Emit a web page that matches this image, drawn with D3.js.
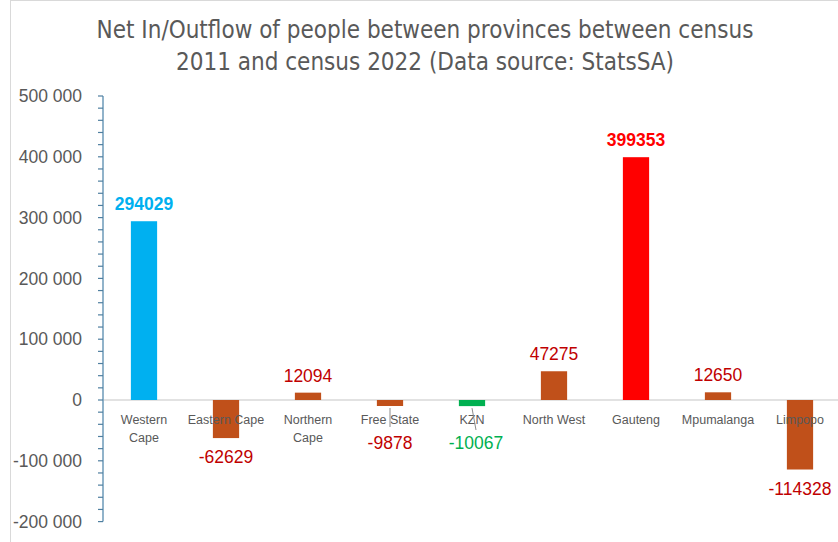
<!DOCTYPE html>
<html lang="en">
<head>
    <meta charset="UTF-8">
    <title>Net In/Outflow of people between provinces</title>
    <script src="https://d3js.org/d3.v7.min.js"></script>
    <style>
        body {
            margin: 0;
            padding: 0;
            background-color: #fff;
            font-family: 'Liberation Sans', Arial, sans-serif;
        }
    </style>
</head>
<body>
    <script>
        // Data
        const provinces = ["Western Cape", "Eastern Cape", "Northern Cape", "Free State", "KZN",
                           "North West", "Gauteng", "Mpumalanga", "Limpopo"];
        const netFlow = [294029, -62629, 12094, -9878, -10067, 47275, 399353, 12650, -114328];
        const yTicks = [-200000, -100000, 0, 100000, 200000, 300000, 400000, 500000];

        const width = 838;
        const height = 542;
        const margin = { top: 96, right: 0, bottom: 20, left: 103 };

        const svg = d3.select("body")
            .append("svg")
            .attr("width", width)
            .attr("height", height);

        // chart frame
        svg.append("rect")
            .attr("x", 10.5).attr("y", 0.5)
            .attr("width", width).attr("height", height + 10)
            .attr("fill", "none")
            .attr("stroke", "#d9d9d9");

        const x = d3.scaleBand()
            .domain(provinces)
            .range([margin.left, 841])
            .paddingInner(0.68)
            .paddingOuter(0.34);

        const y = d3.scaleLinear()
            .domain([-200000, 500000])
            .range([521.6, 96]);

        const barColor = (d, i) => {
            if (provinces[i] === "Western Cape") return "#00b0f0";
            if (provinces[i] === "Gauteng") return "#ff0000";
            if (provinces[i] === "KZN") return "#00b050";
            return "#c0501a";
        };
        const labelColor = (d, i) => {
            if (provinces[i] === "Western Cape") return "#00b0f0";
            if (provinces[i] === "Gauteng") return "#ff0000";
            if (provinces[i] === "KZN") return "#00b050";
            return "#c00000";
        };

        // Title
        const title = svg.append("text")
            .attr("x", 425)
            .attr("text-anchor", "middle")
            .attr("fill", "#595959")
            .style("font-family", "'Liberation Sans Narrow', 'DejaVu Sans Condensed', sans-serif")
            .style("font-size", "24px");
        title.append("tspan").attr("x", 425).attr("y", 38).text("Net In/Outflow of people between provinces between census");
        title.append("tspan").attr("x", 425).attr("y", 70).text("2011 and census 2022 (Data source: StatsSA)");

        // zero line
        svg.append("line")
            .attr("x1", margin.left).attr("x2", width)
            .attr("y1", y(0)).attr("y2", y(0))
            .attr("stroke", "#d9d9d9")
            .attr("stroke-width", 1.5);

        // Bars
        svg.append("g")
            .selectAll("rect")
            .data(netFlow)
            .join("rect")
            .attr("x", (d, i) => x(provinces[i]))
            .attr("width", x.bandwidth())
            .attr("y", d => y(Math.max(0, d)))
            .attr("height", d => Math.abs(y(d) - y(0)))
            .attr("fill", barColor);

        // Y axis with minor ticks
        const minorTicks = d3.range(-200000, 500001, 20000);
        const axisG = svg.append("g")
            .attr("transform", `translate(${margin.left},0)`);
        axisG.append("line")
            .attr("x1", 0).attr("x2", 0)
            .attr("y1", y(500000)).attr("y2", y(-200000))
            .attr("stroke", "#6d9ab9")
            .attr("stroke-width", 1.5);
        axisG.selectAll("line.minor")
            .data(minorTicks)
            .join("line")
            .attr("class", "minor")
            .attr("x1", -5).attr("x2", 0)
            .attr("y1", d => y(d)).attr("y2", d => y(d))
            .attr("stroke", "#4f7fa0")
            .attr("stroke-width", 1.2);
        axisG.selectAll("text")
            .data(yTicks)
            .join("text")
            .attr("x", -21)
            .attr("y", d => y(d))
            .attr("dy", "0.35em")
            .attr("text-anchor", "end")
            .attr("fill", "#595959")
            .style("font-size", "17.5px")
            .text(d => d3.format(",")(d).replace(/,/g, " ").replace("−", "-"));

        // Category labels
        const catG = svg.append("g");
        provinces.forEach((p, i) => {
            const cx = x(p) + x.bandwidth() / 2;
            const words = (p === "Western Cape" || p === "Northern Cape") ? p.split(" ") : [p];
            const t = catG.append("text")
                .attr("text-anchor", "middle")
                .attr("fill", "#595959")
                .style("font-size", "12.5px");
            words.forEach((w, j) => {
                t.append("tspan").attr("x", cx).attr("y", 424 + j * 18).text(w);
            });
        });

        // leader lines for small negative bars
        const leaders = [
            { name: "Free State", dx: 0, y2: 427 },
            { name: "KZN", dx: 4, y2: 430 }
        ];
        leaders.forEach(l => {
            const i = provinces.indexOf(l.name);
            const cx = x(l.name) + x.bandwidth() / 2;
            svg.append("line")
                .attr("x1", cx).attr("y1", y(netFlow[i]) + 2)
                .attr("x2", cx + l.dx).attr("y2", l.y2)
                .attr("stroke", "#8c8c8c")
                .attr("stroke-width", 1);
        });

        // Value labels
        const labelOffset = (d, i) => {
            const p = provinces[i];
            if (p === "Free State" || p === "KZN") return 449;
            if (d >= 0) return y(d) - 11;
            return y(d) + 25;
        };
        svg.append("g")
            .selectAll("text")
            .data(netFlow)
            .join("text")
            .attr("x", (d, i) => x(provinces[i]) + x.bandwidth() / 2 + (provinces[i] === "KZN" ? 4 : 0))
            .attr("y", labelOffset)
            .attr("text-anchor", "middle")
            .attr("fill", labelColor)
            .style("font-size", "17.5px")
            .style("font-weight", (d, i) => (provinces[i] === "Western Cape" || provinces[i] === "Gauteng") ? "bold" : "normal")
            .text(d => d);
    </script>
</body>
</html>
